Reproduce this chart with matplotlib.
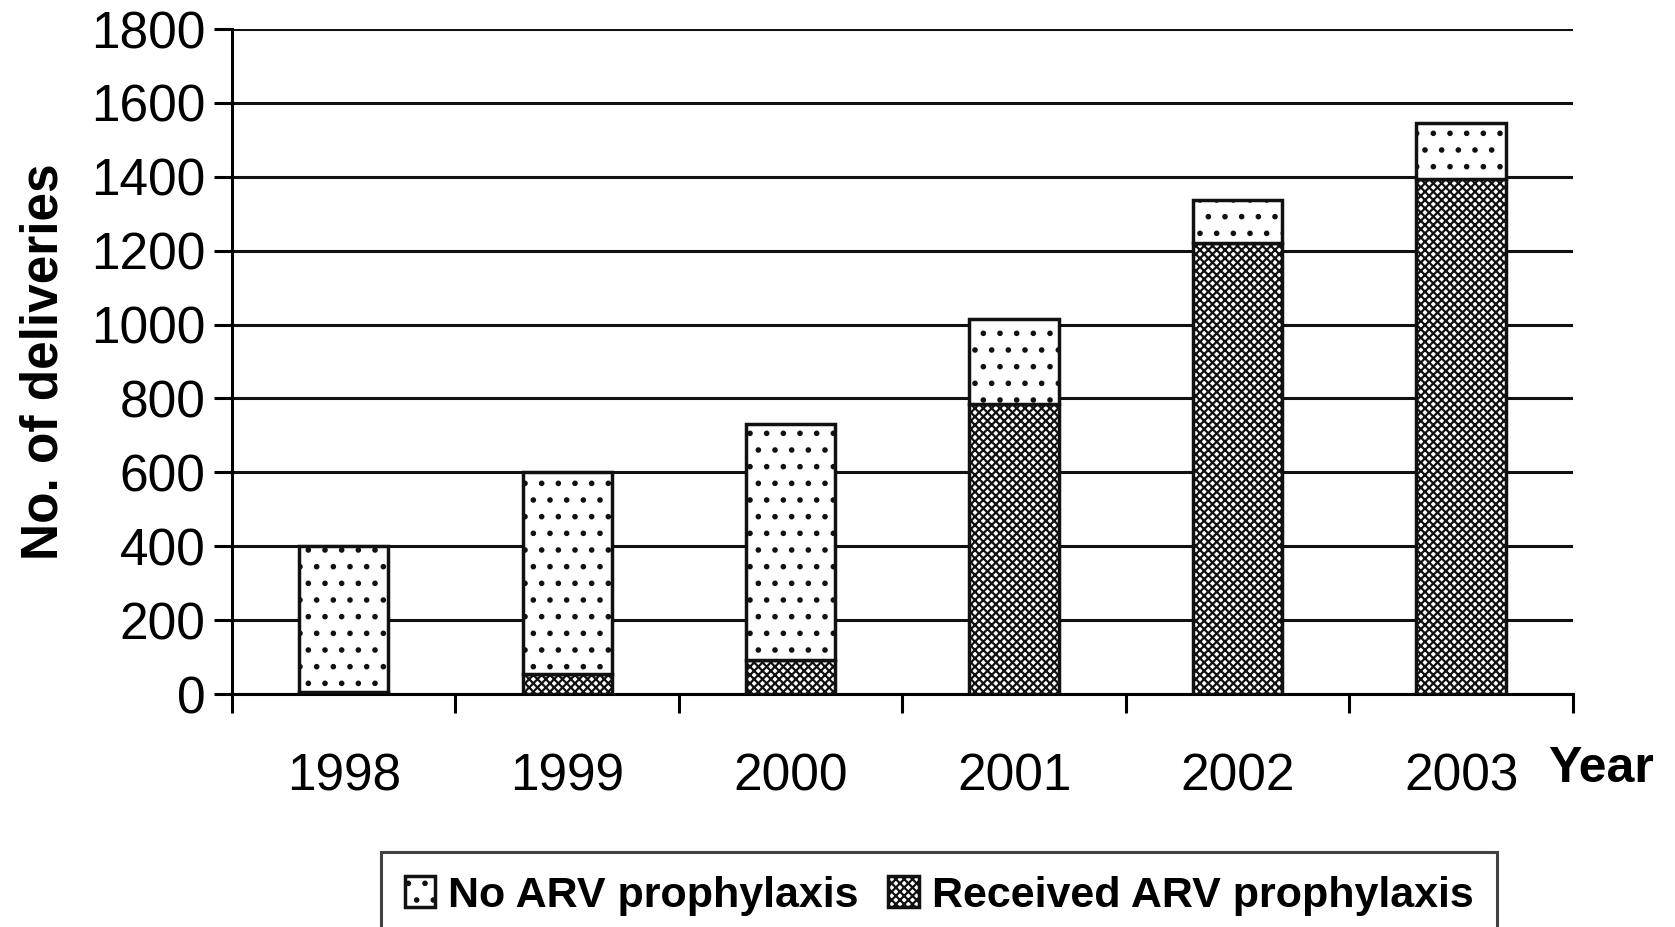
import matplotlib.pyplot as plt
import numpy as np

years = ['1998', '1999', '2000', '2001', '2002', '2003']
received = [5, 55, 92, 786, 1220, 1393]
total = [400, 601, 731, 1015, 1337, 1546]
no_arv = [t - r for t, r in zip(total, received)]

plt.rcParams['font.family'] = ['Liberation Sans', 'DejaVu Sans']
plt.rcParams['hatch.linewidth'] = 1.6

fig = plt.figure(figsize=(16.75, 9.27), dpi=100)
ax = fig.add_axes([0.1385, 0.2513, 0.8005, 0.7174])

x = np.arange(len(years))
ax.bar(x, received, 0.4, color='white', edgecolor='#111111', hatch='xxxx',
       linewidth=2.5, label='Received ARV prophylaxis', zorder=3)
ax.bar(x, no_arv, 0.4, bottom=received, color='white', edgecolor='#111111',
       hatch='.', linewidth=2.5, label='No ARV prophylaxis', zorder=3)

ax.set_xlim(-0.5, 5.5)
ax.set_ylim(0, 1800)
ax.set_yticks(range(0, 1801, 200))
ax.yaxis.grid(True, color='#111111', linewidth=2.2, zorder=0)
ax.set_axisbelow(True)

ax.set_xticks(np.arange(-0.5, 6, 1))
ax.set_xticklabels([])
ax.set_xticks(x, minor=True)
ax.set_xticklabels(years, minor=True)
ax.tick_params(axis='x', which='major', length=14, width=2.2, direction='out')
ax.tick_params(axis='x', which='minor', length=0, pad=42, labelsize=37)
ax.tick_params(axis='y', length=13, width=2.2, pad=6, labelsize=37)

for s in ['top', 'right']:
    ax.spines[s].set_visible(False)
for s in ['left', 'bottom']:
    ax.spines[s].set_linewidth(2.2)

ax.set_ylabel('No. of deliveries', fontsize=37, fontweight='bold')
ax.yaxis.set_label_coords(-0.122, 0.5)
fig.text(0.924, 0.17, 'Year', fontsize=36, fontweight='bold', ha='left', va='center')

h, l = ax.get_legend_handles_labels()
leg = fig.legend(h[::-1], l[::-1], loc='upper center', bbox_to_anchor=(0.5606, 0.081),
                 ncol=2, prop={'weight': 'bold', 'size': 31},
                 frameon=True, fancybox=False, edgecolor='#111111',
                 handlelength=0.7, handleheight=0.7, handletextpad=0.3,
                 columnspacing=0.7, borderpad=0.55, borderaxespad=0)
leg.get_frame().set_linewidth(2.2)

fig.savefig('out.png', dpi=100)
